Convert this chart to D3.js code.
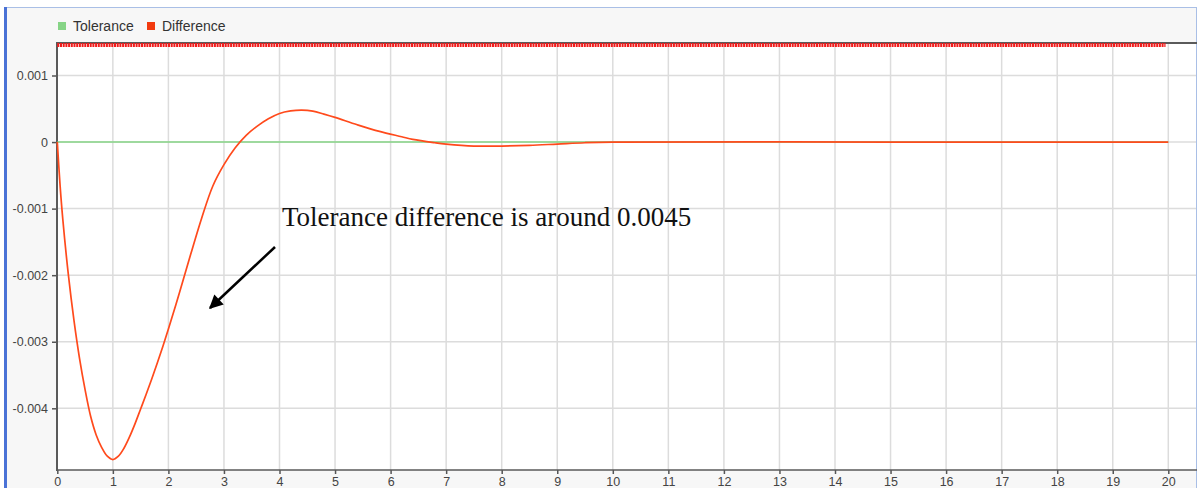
<!DOCTYPE html>
<html>
<head>
<meta charset="utf-8">
<script src="https://cdn.jsdelivr.net/npm/d3@7"></script>
<style>
  html, body { margin: 0; padding: 0; background: #ffffff; }
  svg { display: block; }
</style>
</head>
<body>
<svg id="chart" width="1198" height="488"></svg>
<script>
// Series data
const seriesNames = ["Tolerance", "Difference"];
const seriesColors = ["#86d486", "#f23a0f"];

const diffTime = [0, 0.05, 0.1, 0.2, 0.3, 0.4, 0.5, 0.6, 0.7, 0.8, 0.9, 1.0, 1.1, 1.2, 1.3, 1.4, 1.5,
  1.6, 1.7, 1.8, 1.9, 2.0, 2.2, 2.4, 2.6, 2.8, 3.0, 3.2, 3.4, 3.6, 3.8, 4.0, 4.2, 4.4, 4.6, 4.8,
  5.0, 5.4, 5.8, 6.2, 6.4, 6.8, 7.0, 7.5, 8.0, 8.5, 9.0, 9.5, 10, 15, 20];
const diffValue = [0, -0.00065, -0.00117, -0.002, -0.00268, -0.00325, -0.00372, -0.00412, -0.0044,
  -0.00459, -0.00472, -0.00477, -0.00472, -0.0046, -0.00443, -0.00423, -0.00401, -0.00379,
  -0.00356, -0.00332, -0.00307, -0.00281, -0.00226, -0.00169, -0.00114, -0.00066, -0.00034,
  -0.00009, 0.0001, 0.00024, 0.00035, 0.00043, 0.000468, 0.00048, 0.000465, 0.00042,
  0.00037, 0.00026, 0.00016, 0.00008, 0.00004, -0.00001, -0.00003, -0.00006, -0.00006,
  -0.00005, -0.00003, -0.00001, 0, 0, 0];

const tolTime = [0, 20];
const tolValue = [0, 0];

// Upper trace drawn along the top edge
const upperTime = [0, 19.95];
const upperValue = [0.00146, 0.00146];

const xTicks = d3.range(0, 21);
const yTicks = [0.001, 0, -0.001, -0.002, -0.003, -0.004];
const yTickLabels = ["0.001", "0", "-0.001", "-0.002", "-0.003", "-0.004"];

const annotationText = "Tolerance difference is around 0.0045";

// Layout
const svg = d3.select("#chart");
const frame = { left: 57, right: 1196, top: 43, bottom: 470 };

const x = d3.scaleLinear().domain([0, 20]).range([57.3, 1168.3]);
const y = d3.scaleLinear().domain([-0.004, 0.001]).range([408.3, 75.5]);

// Panel backgrounds and borders
svg.append("rect").attr("x", 7).attr("y", 7).attr("width", 1190).attr("height", 481).attr("fill", "#f7f7f7");
svg.append("rect").attr("x", frame.left).attr("y", frame.top)
  .attr("width", frame.right - frame.left).attr("height", frame.bottom - frame.top).attr("fill", "#ffffff");
svg.append("line").attr("x1", 7).attr("x2", 1197).attr("y1", 7.5).attr("y2", 7.5)
  .attr("stroke", "#a9bfe6").attr("stroke-width", 1);
svg.append("line").attr("x1", 1196.5).attr("x2", 1196.5).attr("y1", 7).attr("y2", 488)
  .attr("stroke", "#a9bfe6").attr("stroke-width", 1);
svg.append("rect").attr("x", 4).attr("y", 7).attr("width", 3).attr("height", 481).attr("fill", "#4a72d6");

// Grid
const grid = svg.append("g");
grid.selectAll("line.vx").data(xTicks.slice(1)).join("line")
  .attr("x1", d => x(d)).attr("x2", d => x(d))
  .attr("y1", frame.top).attr("y2", frame.bottom)
  .attr("stroke", "#dcdcdc").attr("stroke-width", 1.5);
grid.selectAll("line.hy").data(yTicks).join("line")
  .attr("x1", frame.left).attr("x2", frame.right)
  .attr("y1", d => y(d)).attr("y2", d => y(d))
  .attr("stroke", "#dcdcdc").attr("stroke-width", 1.5);

// Axes
const xAxis = d3.axisBottom(x).tickValues(xTicks).tickSize(4).tickPadding(3).tickFormat(d3.format("d"));
const gx = svg.append("g").attr("transform", `translate(0,${frame.bottom})`).call(xAxis);
gx.select(".domain").remove();
gx.selectAll("line").attr("stroke", "#555").attr("stroke-width", 1.5);
gx.selectAll("text").attr("fill", "#444").style("font", "12.5px 'Liberation Sans', Arial, sans-serif");

const yAxis = d3.axisLeft(y).tickValues(yTicks).tickSize(5).tickPadding(4)
  .tickFormat((d, i) => yTickLabels[i]);
const gy = svg.append("g").attr("transform", `translate(${frame.left},0)`).call(yAxis);
gy.select(".domain").remove();
gy.selectAll("line").attr("stroke", "#555").attr("stroke-width", 1.5);
gy.selectAll("text").attr("fill", "#444").style("font", "12.5px 'Liberation Sans', Arial, sans-serif");

// Frame lines
svg.append("line").attr("x1", frame.left).attr("x2", frame.left).attr("y1", frame.top - 1).attr("y2", frame.bottom + 1)
  .attr("stroke", "#5a5a5a").attr("stroke-width", 2);
svg.append("line").attr("x1", frame.left).attr("x2", 1197).attr("y1", frame.bottom).attr("y2", frame.bottom)
  .attr("stroke", "#5a5a5a").attr("stroke-width", 1.5);
svg.append("line").attr("x1", frame.left).attr("x2", 1197).attr("y1", frame.top).attr("y2", frame.top)
  .attr("stroke", "#5a5a5a").attr("stroke-width", 2);

// Series
const lineGen = (xs, ys, curve) => d3.line().curve(curve)
  .x((d, i) => x(xs[i])).y((d, i) => y(ys[i]))(xs);

svg.append("path").attr("d", lineGen(tolTime, tolValue, d3.curveLinear))
  .attr("fill", "none").attr("stroke", seriesColors[0]).attr("stroke-width", 1.6);

svg.append("path").attr("d", lineGen(diffTime, diffValue, d3.curveCatmullRom.alpha(0.5)))
  .attr("fill", "none").attr("stroke", "#ff4a1c").attr("stroke-width", 1.7);

svg.append("path").attr("d", lineGen(upperTime, upperValue, d3.curveLinear))
  .attr("fill", "none").attr("stroke", "#f21c1c").attr("stroke-width", 4)
  .attr("stroke-dasharray", "2,0.7");

// Legend
const legend = svg.append("g").attr("transform", "translate(58,22)");
const legendX = [0, 89];
seriesNames.forEach((name, i) => {
  const g = legend.append("g").attr("transform", `translate(${legendX[i]},0)`);
  g.append("rect").attr("width", 8).attr("height", 8).attr("fill", seriesColors[i]);
  g.append("text").attr("x", 15).attr("y", 9).text(name)
    .attr("fill", "#333").style("font", "14px 'Liberation Sans', Arial, sans-serif");
});

// Annotation with arrow
svg.append("defs").append("marker")
  .attr("id", "arrowhead").attr("viewBox", "0 0 10 10").attr("refX", 9).attr("refY", 5)
  .attr("markerWidth", 6).attr("markerHeight", 5.5).attr("markerUnits", "strokeWidth").attr("orient", "auto")
  .append("path").attr("d", "M0,0 L10,5 L0,10 Z").attr("fill", "#000");

svg.append("line").attr("x1", 275).attr("y1", 247).attr("x2", 210).attr("y2", 308)
  .attr("stroke", "#000").attr("stroke-width", 2.5).attr("marker-end", "url(#arrowhead)");

svg.append("text").attr("x", 282).attr("y", 226).text(annotationText)
  .attr("fill", "#111").style("font", "27px 'Liberation Serif', 'Times New Roman', serif");
</script>
</body>
</html>
